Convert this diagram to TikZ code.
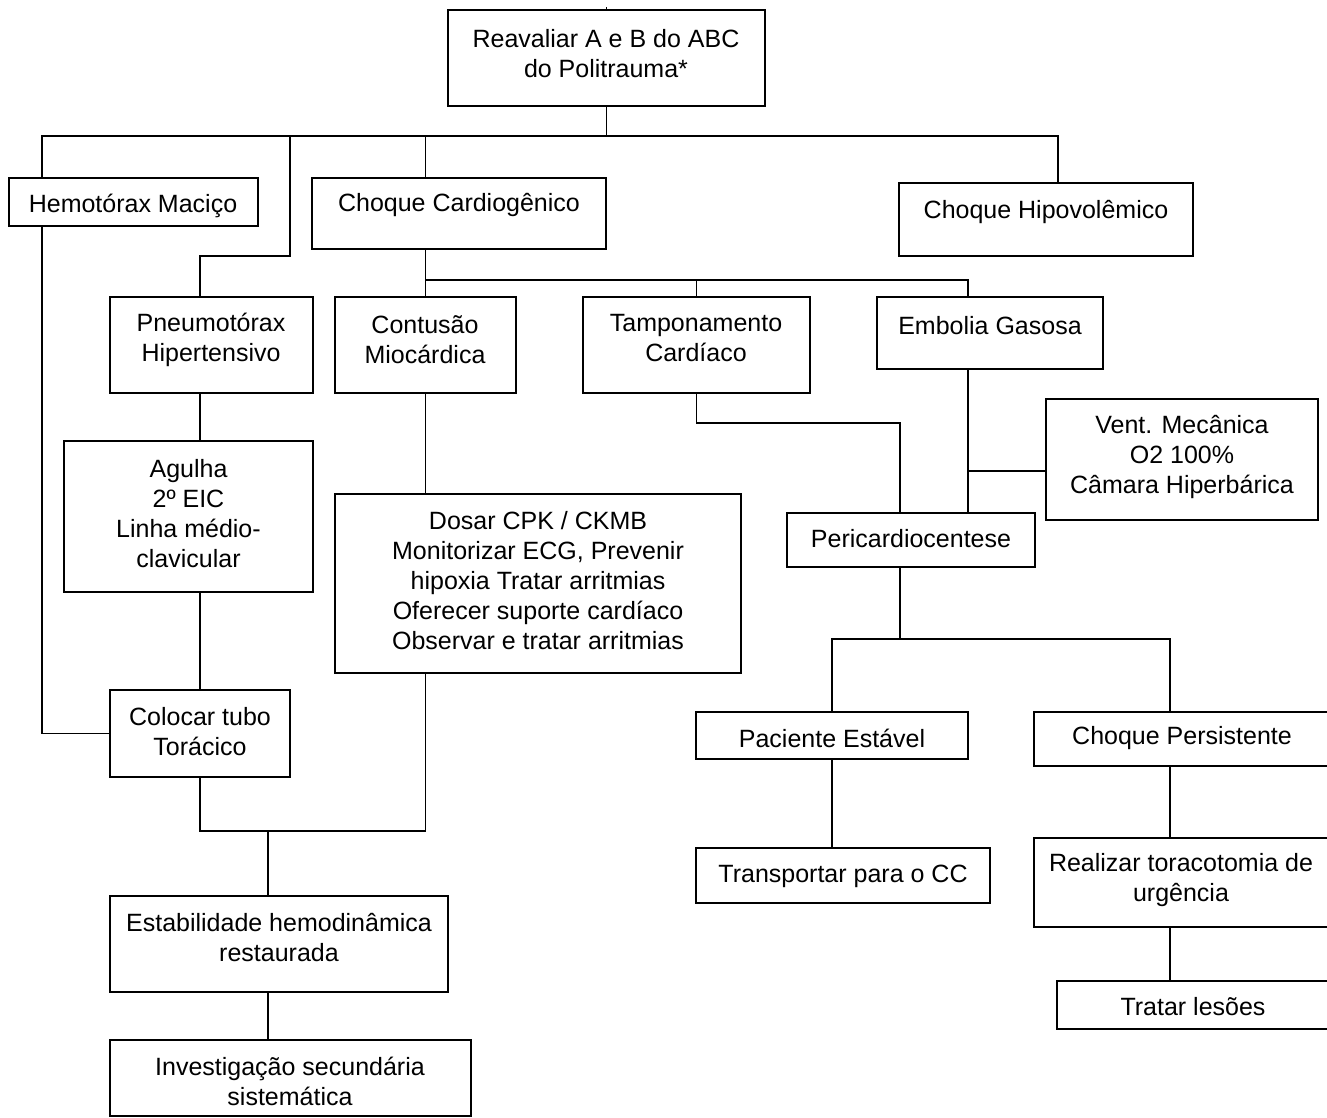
\documentclass[tikz,border=0pt]{standalone}
\usepackage{fontspec}
\setmainfont{Liberation Sans}
\begin{document}
\begin{tikzpicture}[x=1pt,y=-1pt,
  bx/.style={draw, line width=1.6pt, inner sep=0pt, outer sep=0pt},
  tx/.style={align=center, inner sep=0pt, font=\fontsize{25}{30}\selectfont},
  cn/.style={line width=1.3pt}]
\useasboundingbox (0,0) rectangle (1327,1118);
\clip (0,0) rectangle (1327,1118);
\fill[white] (0,0) rectangle (1327,1118);
\newcommand\mybox[5]{\node[bx, minimum width={#4pt-#2pt}, minimum height={#5pt-#3pt}] (#1) at ({(#2+#4)/2},{(#3+#5)/2}) {};}
% boxes
\mybox{top}{448}{10}{765}{106}
\mybox{hemo}{9}{178}{258}{226}
\mybox{ccard}{312}{178}{606}{249}
\mybox{hipo}{899}{183}{1193}{256}
\mybox{pneu}{110}{297}{313}{393}
\mybox{cont}{335}{297}{516}{393}
\mybox{tamp}{583}{297}{810}{393}
\mybox{emb}{877}{297}{1103}{369}
\mybox{agu}{64}{441}{313}{592}
\mybox{dos}{335}{494}{741}{673}
\mybox{col}{110}{690}{290}{777}
\mybox{est}{110}{896}{448}{992}
\mybox{inv}{110}{1040}{471}{1116}
\mybox{vent}{1046}{399}{1318}{520}
\mybox{peri}{787}{513}{1035}{567}
\mybox{pac}{696}{712}{968}{759}
\mybox{cp}{1034}{712}{1334}{766}
\mybox{trans}{696}{848}{990}{903}
\mybox{real}{1034}{838}{1334}{927}
\mybox{trat}{1057}{981}{1334}{1029}
% texts
\node[tx] (topt) at (606,54) {Reavaliar A e B do ABC\\do Politrauma*};
\node[tx] (hemot) at (133,206) {Hemotórax Maciço};
\node[tx] (ccardt) at (459,205) {Choque Cardiogênico};
\node[tx] (hipot) at (1046,212) {Choque Hipovolêmico};
\node[tx] (pneut) at (211,340) {Pneumotórax\\Hipertensivo};
\node[tx] (contt) at (425,340) {Contusão\\Miocárdica};
\node[tx] (tampt) at (696,338) {Tamponamento\\Cardíaco};
\node[tx] (embt) at (990,326) {Embolia Gasosa};
\node[tx] (agut) at (188.5,514) {Agulha\\2º EIC\\Linha médio-\\clavicular};
\node[tx] (dost) at (538,581) {Dosar CPK / CKMB\\Monitorizar ECG, Prevenir\\hipoxia Tratar arritmias\\Oferecer suporte cardíaco\\Observar e tratar arritmias};
\node[tx] (colt) at (200,732) {Colocar tubo\\Torácico};
\node[tx] (estt) at (279,938) {Estabilidade hemodinâmica\\restaurada};
\node[tx] (invt) at (290,1081) {Investigação secundária\\sistemática};
\node[tx] (ventt) at (1182,457) {Vent. Mecânica\\O2 100\%\\Câmara Hiperbárica};
\node[tx] (perit) at (911,539) {Pericardiocentese};
\node[tx] (pact) at (832,738) {Paciente Estável};
\node[tx] (cpt) at (1182,738) {Choque Persistente};
\node[tx] (transt) at (843,876) {Transportar para o CC};
\node[tx] (realt) at (1181,880) {Realizar toracotomia de\\urgência};
\node[tx] (tratt) at (1193,1007) {Tratar lesões};
% helper coordinates
\coordinate (tick) at (606.5,7);
\coordinate (bus1) at (606.5,136);
\coordinate (c42) at (42,0);
\coordinate (c200) at (200,0);
\coordinate (c1058) at (1058,0);
\coordinate (k1) at (290,256);
\coordinate (k2) at (200,256);
\coordinate (bus2) at (425.5,280);
\coordinate (c968) at (968,0);
\coordinate (j1) at (268,831);
\coordinate (t1) at (900,423);
\coordinate (e1) at (968,471);
\coordinate (b3) at (900,639);
\coordinate (c1170) at (1170,0);
% connectors
\draw[cn] (top.north) -- (tick);
\draw[cn] (top.south) -- (bus1);
\draw[cn] (hemo.north -| c42) -- (c42 |- bus1) -- (c1058 |- bus1) -- (hipo.north -| c1058);
\draw[cn] (k1 |- bus1) -- (k1) -- (k2) -- (pneu.north -| c200);
\draw[cn] (cont.north |- bus1) -- (ccard.north -| cont.north);
\draw[cn] (ccard.south -| cont.north) -- (cont.north);
\draw[cn] (bus2) -- (c968 |- bus2) -- (emb.north -| c968);
\draw[cn] (tamp.north |- bus2) -- (tamp.north);
\draw[cn] (hemo.south -| c42) |- (col.west);
\draw[cn] (pneu.south -| c200) -- (agu.north -| c200);
\draw[cn] (agu.south -| c200) -- (col.north);
\draw[cn] (cont.south) -- (dos.north -| cont.south);
\draw[cn] (dos.south -| cont.south) |- (j1) -| (col.south);
\draw[cn] (j1) -- (est.north -| j1);
\draw[cn] (est.south -| j1) -- (inv.north -| j1);
\draw[cn] (tamp.south) |- (t1) -- (peri.north -| t1);
\draw[cn] (emb.south -| c968) -- (peri.north -| c968);
\draw[cn] (e1) -- (vent.west |- e1);
\draw[cn] (peri.south -| b3) -- (b3);
\draw[cn] (pac.north) |- (b3) -- (c1170 |- b3) -- (cp.north -| c1170);
\draw[cn] (pac.south) -- (trans.north -| pac.south);
\draw[cn] (cp.south -| c1170) -- (real.north -| c1170);
\draw[cn] (real.south -| c1170) -- (trat.north -| c1170);
\end{tikzpicture}
\end{document}
